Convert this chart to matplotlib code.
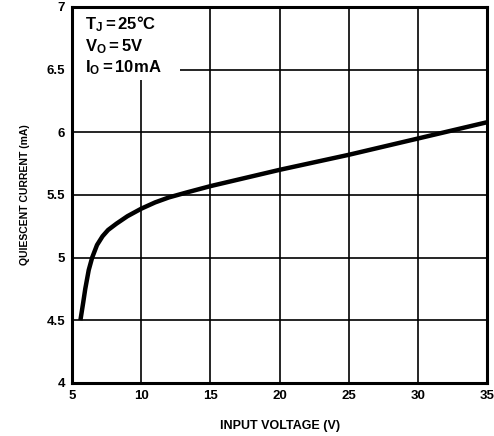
import matplotlib.pyplot as plt
from matplotlib.patches import Rectangle

plt.rcParams['font.family'] = ['Liberation Sans', 'DejaVu Sans']
plt.rcParams['font.weight'] = 'bold'
plt.rcParams['mathtext.fontset'] = 'custom'
plt.rcParams['mathtext.rm'] = 'Liberation Sans:bold'
plt.rcParams['mathtext.it'] = 'Liberation Sans:bold'
plt.rcParams['mathtext.bf'] = 'Liberation Sans:bold'

# Quiescent current vs input voltage
input_voltage = [5.6, 5.8, 5.95, 6.2, 6.45, 6.8, 7.2, 7.6, 8.2, 9.0, 10.0, 11.0, 12.0, 13.3, 15.0, 20.0, 25.0, 30.0, 35.0]
quiescent_current = [4.5, 4.64, 4.75, 4.9, 5.0, 5.1, 5.17, 5.22, 5.27, 5.33, 5.39, 5.44, 5.48, 5.52, 5.57, 5.70, 5.82, 5.95, 6.08]

x_ticks = [5, 10, 15, 20, 25, 30, 35]
y_ticks = [4, 4.5, 5, 5.5, 6, 6.5, 7]
y_tick_labels = ['4', '4.5', '5', '5.5', '6', '6.5', '7']

fig = plt.figure(figsize=(4.94, 4.36), dpi=100)
ax = fig.add_axes([0.146, 0.122, 0.84, 0.862])

ax.plot(input_voltage, quiescent_current, color='black', linewidth=3.2,
        solid_capstyle='butt', solid_joinstyle='round', zorder=3)

ax.set_xlim(5, 35)
ax.set_ylim(4, 7)
ax.set_xticks(x_ticks)
ax.set_yticks(y_ticks)
ax.set_yticklabels(y_tick_labels)
ax.tick_params(length=0, labelsize=9.5, pad=5)
for lab in ax.get_xticklabels() + ax.get_yticklabels():
    lab.set_fontweight('bold')

ax.set_axisbelow(True)
ax.grid(True, color='black', linewidth=1.2)
for s in ax.spines.values():
    s.set_linewidth(2.2)

# white box behind the conditions text
ax.add_patch(Rectangle((5, 6.42), 7.8, 0.58, facecolor='white', edgecolor='none', zorder=1))
ax.text(5.9, 6.94, r'$T_J = 25°C$' + '\n' + r'$V_O = 5V$' + '\n' + r'$I_O = 10mA$',
        fontsize=12, va='top', ha='left', linespacing=1.2, zorder=4)

ax.set_xlabel('INPUT VOLTAGE (V)', fontsize=9, fontweight='bold', labelpad=13)
ax.set_ylabel('QUIESCENT CURRENT (mA)', fontsize=7.5, fontweight='bold', labelpad=12)

plt.savefig('out.png', dpi=100)
